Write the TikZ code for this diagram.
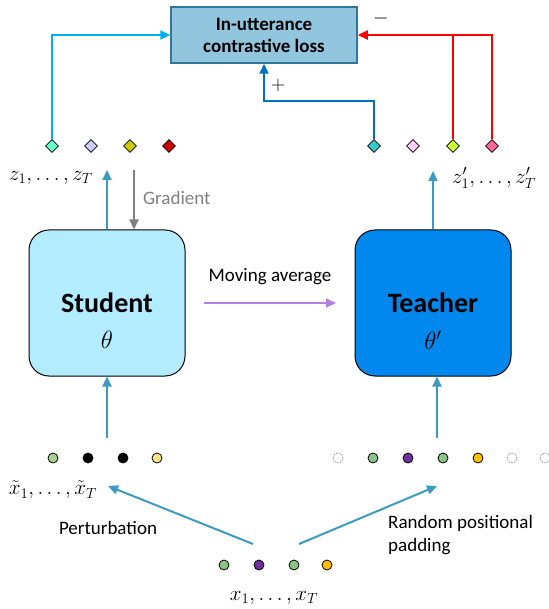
\RequirePackage{fix-cm}
\documentclass[tikz,border=0pt]{standalone}
\usepackage[no-math]{fontspec}
\setmainfont{Carlito}
\usetikzlibrary{arrows.meta,shapes.geometric}
\definecolor{lossfill}{RGB}{146,198,222}
\definecolor{lossdraw}{RGB}{49,120,150}
\definecolor{stufill}{RGB}{179,235,255}
\definecolor{teafill}{RGB}{0,136,238}
\definecolor{upblue}{RGB}{60,155,195}
\definecolor{cyanline}{RGB}{0,176,240}
\definecolor{plusblue}{RGB}{0,112,192}
\definecolor{mavg}{RGB}{178,128,224}
\definecolor{gradgray}{RGB}{128,128,128}
\definecolor{dA}{RGB}{102,255,204}
\definecolor{dB}{RGB}{204,204,255}
\definecolor{dC}{RGB}{204,204,0}
\definecolor{dD}{RGB}{204,0,0}
\definecolor{dE}{RGB}{51,204,204}
\definecolor{dF}{RGB}{255,204,255}
\definecolor{dG}{RGB}{204,255,51}
\definecolor{dH}{RGB}{255,102,153}
\definecolor{cLG}{RGB}{169,208,142}
\definecolor{cG}{RGB}{140,196,134}
\definecolor{cP}{RGB}{112,48,160}
\definecolor{cO}{RGB}{255,192,0}
\definecolor{cY}{RGB}{255,228,130}
\begin{document}
\begin{tikzpicture}[x=1pt,y=-1pt,
  tipA/.style={-{Triangle[length=10pt,width=9pt]}},
  conn/.style={line width=2pt, tipA},
  dia/.style={diamond, draw=black, line width=0.8pt, inner sep=0pt, minimum width=13pt, minimum height=13pt},
  dot/.style={circle, draw=black, line width=0.8pt, inner sep=0pt, minimum size=10pt},
  ghost/.style={circle, draw=gray, densely dotted, line width=0.8pt, fill=white, inner sep=0pt, minimum size=10pt},
  model/.style={rounded corners=20pt, draw=black, line width=1pt, minimum width=156pt, minimum height=146pt, inner sep=0pt},
  lbl/.style={font=\fontsize{19}{23}\selectfont, inner sep=0pt},
  mathlbl/.style={font=\fontsize{21}{24}\selectfont, inner sep=0pt}]
\useasboundingbox (0,0) rectangle (548,609);

% loss box
\node[draw=lossdraw, line width=1.5pt, fill=lossfill, minimum width=186pt, minimum height=56pt, inner sep=0pt,
      align=center, font=\fontsize{19}{22}\selectfont\bfseries] (loss) at (264,35) {In-utterance\\contrastive loss};

% diamonds
\node[dia, fill=dA] (s1) at (52,146) {};
\node[dia, fill=dB] (s2) at (91,146) {};
\node[dia, fill=dC] (s3) at (130,146) {};
\node[dia, fill=dD] (s4) at (169,146) {};
\node[dia, fill=dE] (t1) at (374,146) {};
\node[dia, fill=dF] (t2) at (413,146) {};
\node[dia, fill=dG] (t3) at (453,146) {};
\node[dia, fill=dH] (t4) at (492,146) {};

% connectors to loss
\draw[conn, cyanline] (s1.north) |- (loss.west);
\draw[conn, plusblue] (t1.north) -- ++(0,-38) -| (loss.south);
\draw[line width=2pt, red] (t3.north) -- (t3.north |- loss.east);
\draw[conn, red] (t4.north) |- (loss.east);
\node[font=\fontsize{20}{24}\selectfont, inner sep=0pt] (plus) at (278,86) {$+$};
\node[font=\fontsize{20}{24}\selectfont, inner sep=0pt] (minus) at (381,19) {$-$};

% labels z
\node[mathlbl] (zl) at (51,178) {$z_1, \ldots, z_T$};
\node[mathlbl] (zr) at (494,178) {$z'_1, \ldots, z'_T$};

% models
\node[model, fill=stufill] (stu) at (107,303) {};
\node[model, fill=teafill] (tea) at (433,303) {};
\node[font=\fontsize{28}{32}\selectfont\bfseries, inner sep=0pt] (stut) at (107,303) {Student};
\node[font=\fontsize{25}{28}\selectfont, inner sep=0pt] (stuth) at (107,340) {$\theta$};
\node[font=\fontsize{28}{32}\selectfont\bfseries, inner sep=0pt] (teat) at (433,303) {Teacher};
\node[font=\fontsize{25}{28}\selectfont, inner sep=0pt] (teath) at (433,340) {$\theta'$};

% model outputs
\coordinate (zo1) at (107,170);
\coordinate (zo2) at (433,171);
\draw[conn, upblue] (stu.north) -- (zo1);
\draw[conn, upblue] (tea.north) -- (zo2);
\coordinate (g1) at (134,170);
\draw[conn, gradgray] (g1) -- (g1 |- stu.north);
\node[lbl, text=gradgray, anchor=west] (gl) at (143,198) {Gradient};

% moving average
\coordinate (ma1) at (204,303);
\coordinate (ma2) at (336,303);
\draw[conn, mavg] (ma1) -- (ma2);
\node[lbl] (mal) at (270,277) {Moving average};

% inputs
\coordinate (i1) at (107,438);
\coordinate (i2) at (437,438);
\draw[conn, upblue] (i1) -- (stu.south);
\draw[conn, upblue] (i2) -- (i2 |- tea.south);

% student input circles
\node[dot, fill=cLG] (a1) at (53,458) {};
\node[dot, fill=black] (a2) at (88,458) {};
\node[dot, fill=black] (a3) at (123,458) {};
\node[dot, fill=cY] (a4) at (157,458) {};
% teacher input circles
\node[ghost] (b1) at (338,458) {};
\node[dot, fill=cG] (b2) at (373,458) {};
\node[dot, fill=cP] (b3) at (408,458) {};
\node[dot, fill=cG] (b4) at (443,458) {};
\node[dot, fill=cO] (b5) at (478,458) {};
\node[ghost] (b6) at (512,458) {};
\node[ghost] (b7) at (545,458) {};

\node[mathlbl] (xt) at (53,490) {$\tilde{x}_1, \ldots, \tilde{x}_T$};

% original input
\node[dot, fill=cG] (c1) at (224,565) {};
\node[dot, fill=cP] (c2) at (259,565) {};
\node[dot, fill=cG] (c3) at (294,565) {};
\node[dot, fill=cO] (c4) at (327,565) {};
\node[mathlbl] (xl) at (274,598) {$x_1, \ldots, x_T$};

% perturbation arrows
\coordinate (p1) at (253,544);
\coordinate (p1e) at (108,486);
\coordinate (p2) at (299,544);
\coordinate (p2e) at (437,486);
\draw[conn, upblue] (p1) -- (p1e);
\draw[conn, upblue] (p2) -- (p2e);
\node[lbl] (pl) at (108,528) {Perturbation};
\node[lbl, anchor=west, align=left] (rl) at (388,535) {Random positional\\padding};
\end{tikzpicture}
\end{document}
